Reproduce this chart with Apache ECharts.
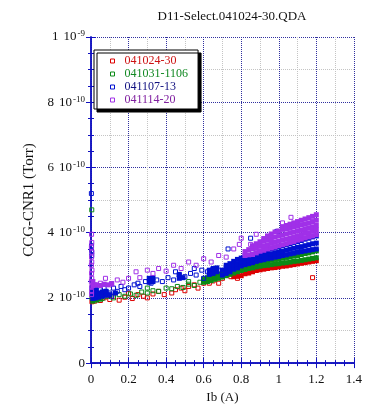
<!DOCTYPE html>
<html>
<head>
<meta charset="utf-8">
<script src="https://cdn.jsdelivr.net/npm/echarts@6/dist/echarts.min.js"></script>
<style>
  html, body { margin: 0; padding: 0; background: #fff; }
  #chart { width: 365px; height: 409px; }
</style>
</head>
<body>
<div id="chart"></div>
<script>
// values in units of 1e-10 Torr, x in A
const seriesNames = ['041024-30', '041031-1106', '041107-13', '041114-20']
const seriesColors = ['#dd0000', '#0b8a16', '#0010d0', '#a030e8']
const legendTextColors = ['#cc1111', '#118822', '#101080', '#8020a0']

const xTicks = [0, 0.2, 0.4, 0.6, 0.8, 1, 1.2, 1.4]
const yTickLabels = ['0', '2|10|-10', '4|10|-10', '6|10|-10', '8|10|-10', '1|10|-9']

// scattered points (hollow squares)
const redPts = [[0.005,1.88],[0.01,1.95],[0.02,1.9],[0.03,1.98],[0.05,1.92],[0.07,2.0],[0.1,1.95],
  [0.12,2.05],[0.15,1.93],[0.18,2.02],[0.2,2.14],[0.22,1.98],[0.25,2.1],[0.28,2.05],[0.3,2.0],
  [0.33,2.12],[0.36,2.2],[0.39,2.1],[0.43,2.15],[0.45,2.25],[0.48,2.3],[0.5,2.22],[0.52,2.35],
  [0.55,2.4],[0.57,2.3],[0.6,2.45],[0.63,2.45],[0.65,2.52],[0.68,2.45],[0.7,2.6],[0.745,2.65],
  [0.78,2.6],[1.18,2.62]]
const greenPts = [[0.005,2.0],[0.004,4.7],[0.02,1.95],[0.04,2.02],[0.06,1.98],[0.09,2.05],[0.12,2.0],
  [0.15,2.1],[0.18,2.05],[0.21,2.12],[0.24,2.08],[0.27,2.18],[0.3,2.15],[0.33,2.22],[0.36,2.2],
  [0.4,2.3],[0.43,2.28],[0.46,2.35],[0.49,2.32],[0.52,2.42],[0.55,2.38],[0.58,2.48],[0.62,2.55],
  [0.66,2.6],[0.3,2.3],[0.52,2.5]]
const bluePts = [[0.002,5.2],[0.003,3.6],[0.003,3.45],[0.004,3.3],[0.005,2.3],[0.01,2.1],[0.015,2.2],
  [0.02,2.0],[0.03,2.15],[0.04,2.05],[0.05,2.25],[0.06,2.1],[0.08,2.2],[0.1,2.15],[0.12,2.3],
  [0.14,2.2],[0.16,2.35],[0.18,2.25],[0.2,2.3],[0.23,2.4],[0.26,2.35],[0.29,2.5],[0.32,2.45],
  [0.35,2.55],[0.38,2.5],[0.41,2.62],[0.44,2.55],[0.47,2.7],[0.5,2.65],[0.53,2.75],[0.56,2.7],
  [0.59,2.85],[0.62,2.8],[0.65,2.9],[0.68,2.85],[0.6,2.6],[0.73,3.5],[0.85,3.83],[0.99,4.04],
  [0.07,2.3],[0.11,2.05],[0.25,2.45],[0.45,2.8],[0.55,2.9]]
const purplePts = [[0.003,2.1],[0.003,2.2],[0.004,2.35],[0.002,2.5],[0.004,2.6],[0.003,2.75],
  [0.005,2.85],[0.002,3.0],[0.004,3.1],[0.003,3.25],[0.005,3.4],[0.002,3.55],[0.004,3.7],[0.003,3.95],
  [0.02,2.4],[0.05,2.45],[0.077,2.6],[0.11,2.42],[0.14,2.55],[0.17,2.48],[0.2,2.6],[0.24,2.8],
  [0.26,2.62],[0.3,2.85],[0.33,2.75],[0.36,2.9],[0.4,2.82],[0.44,3.0],[0.48,2.9],[0.52,3.1],
  [0.56,3.0],[0.6,3.2],[0.64,3.1],[0.68,3.3],[0.72,3.25],[0.76,3.5],[0.79,3.64],[0.8,3.83],
  [0.85,3.64],[0.88,3.95],[1.02,4.3],[1.065,4.47]]

// dense bands: x positions and the y values stacked at each one
const redBandX = [0.76,0.78,0.8,0.82,0.84,0.86,0.88,0.9,0.92,0.94,0.96,0.98,1.0,1.02,1.04,1.06,1.08,1.1,1.12,1.14,1.16,1.18,1.2]
const redBandY = [[2.65],[2.66],[2.68],[2.74],[2.76],[2.8],[2.84],[2.86],[2.88],[2.9],[2.92],[2.93],[2.95],
  [2.97],[2.98],[3.0],[3.02],[3.04],[3.06],[3.08],[3.1],[3.12],[3.14]]

const greenBandX = [0.01,0.03,0.05,0.6,0.62,0.64,0.66,0.68,0.7,0.72,0.74,0.76,0.78,0.8,0.82,0.84,0.86,0.88,0.9,0.92,0.94,0.96,0.98,1.0,1.02,1.04,1.06,1.08,1.1,1.12,1.14,1.16,1.18,1.2]
const greenBandY = [[1.9],[1.93],[1.96],[2.48,2.58],[2.5,2.62],[2.53,2.66],[2.57,2.7],[2.6,2.73],[2.64,2.76],[2.68,2.8],
  [2.72,2.84],[2.76,2.88],[2.8,2.92],[2.84,2.96],[2.87,2.99],[2.9,3.02],[2.92,3.05],[2.95,3.08],
  [2.97,3.1],[2.99,3.12],[3.0,3.14],[3.02,3.16],[3.04,3.18],[3.05,3.2],[3.07,3.22],[3.08,3.24],
  [3.1,3.26],[3.12,3.28],[3.13,3.3],[3.15,3.33],[3.17,3.36],[3.19,3.38],[3.21,3.41],[3.23,3.44]]

const blueBandX = [0.01,0.025,0.04,0.06,0.08,0.1,0.13,0.31,0.33,0.47,0.49,0.63,0.65,0.67,
  0.7,0.72,0.74,0.76,0.78,0.8,0.82,0.84,0.86,0.88,0.9,0.92,0.94,0.96,0.98,1.0,1.02,1.04,1.06,1.08,1.1,1.12,1.14,1.16,1.18,1.2]
const blueBandY = [[1.98,2.12,2.26],[2.0,2.14,2.25],[2.02,2.15],[2.05,2.18],[2.08,2.2],[2.1],[2.15],
  [2.48,2.6],[2.5,2.62],[2.6,2.72],[2.62],[2.72,2.85],[2.75,2.88],[2.8,2.92],
  [2.7,2.85],[2.75,2.9,3.0],[2.8,2.92,3.05],[2.88,3.0,3.12],[2.92,3.05,3.18],
  [2.98,3.1,3.22],[3.02,3.14,3.26],[3.05,3.17,3.3],[3.08,3.2,3.33],[3.12,3.24,3.36],[3.15,3.27,3.4],
  [3.17,3.3,3.43],[3.2,3.33,3.46],[3.22,3.35,3.5],[3.25,3.38,3.53],[3.27,3.4,3.56],[3.3,3.43,3.6],
  [3.32,3.46,3.63],[3.35,3.49,3.66],[3.37,3.52,3.7],[3.4,3.55,3.73],[3.42,3.57,3.76],[3.44,3.6,3.8],
  [3.46,3.63,3.83],[3.48,3.66,3.87],[3.5,3.68,3.9]]

const purpleBandX = [0.01,0.03,0.05,0.07,0.09,0.11,0.82,0.84,0.86,0.88,0.9,0.92,0.94,0.96,0.98,1.0,1.02,1.04,1.06,1.08,1.1,1.12,1.14,1.16,1.18,1.2]
const purpleBandY = [[2.38,2.5],[2.4],[2.38],[2.42],[2.4],[2.44],[3.3,3.42],[3.32,3.48],[3.33,3.5,3.6],[3.38,3.52,3.66],[3.43,3.58,3.72],
  [3.46,3.6,3.75,3.82],[3.5,3.63,3.78,3.9],[3.53,3.67,3.82,3.96],[3.56,3.7,3.86,4.02],[3.6,3.74,3.9,4.05],
  [3.63,3.78,3.93,4.1,4.18],[3.66,3.8,3.96,4.12,4.22],[3.7,3.84,4.0,4.15,4.26],[3.73,3.87,4.02,4.18,4.3],
  [3.77,3.9,4.05,4.2,4.34],[3.8,3.94,4.08,4.24,4.38],[3.84,3.98,4.12,4.27,4.42],[3.87,4.0,4.15,4.3,4.46],
  [3.9,4.04,4.18,4.34,4.5],[3.94,4.08,4.22,4.38,4.55]]

const scatterSets = [redPts, greenPts, bluePts, purplePts]
const bandSets = [[redBandX, redBandY], [greenBandX, greenBandY], [blueBandX, blueBandY], [purpleBandX, purpleBandY]]

const serif = '"Liberation Serif", "DejaVu Serif", serif'
const axisBlue = '#1010c0'
const gridBlue = '#3030a0'
const gridGrey = '#c4c4c4'

const bandPoints = (xs, ys) => {
  const out = []
  xs.forEach((x, i) => ys[i].forEach(y => out.push([x, y])))
  return out
}

const series = []
seriesNames.forEach((name, i) => {
  series.push({
    name,
    type: 'scatter',
    symbol: 'rect',
    symbolSize: 5,
    data: bandPoints(bandSets[i][0], bandSets[i][1]),
    itemStyle: { color: seriesColors[i], opacity: 1 },
    z: 2 + i
  })
  series.push({
    name,
    type: 'scatter',
    symbol: 'rect',
    symbolSize: 4,
    data: scatterSets[i],
    itemStyle: { color: 'rgba(255,255,255,0)', borderColor: seriesColors[i], borderWidth: 1, opacity: 1 },
    z: 2 + i
  })
})

const yLabel = (v) => {
  const s = yTickLabels[Math.round(v / 2)]
  if (!s || s.indexOf('|') < 0) return s
  const parts = s.split('|')
  return '{n|' + parts[0] + '}{m|' + parts[1] + '}{e|' + parts[2] + '}'
}

// the frame axes (ticks inward, no labels)
const frameAxis = (extra) => Object.assign({
  type: 'value',
  axisLine: { show: true, lineStyle: { color: axisBlue, width: 1.5 } },
  axisTick: { inside: true, length: 5, lineStyle: { color: axisBlue } },
  splitLine: { show: false },
  axisLabel: { show: false }
}, extra)

// faint grey grid at half steps
const greyAxis = (extra) => Object.assign({
  type: 'value',
  axisLine: { show: false },
  axisTick: { show: false },
  axisLabel: { show: false },
  splitLine: { show: true, lineStyle: { color: gridGrey, type: 'dotted', width: 1 } }
}, extra)

const chart = echarts.init(document.getElementById('chart'))
chart.setOption({
  animation: false,
  backgroundColor: '#fff',
  title: {
    text: 'D11-Select.041024-30.QDA',
    left: 227,
    textAlign: 'center',
    top: 5,
    textStyle: { fontFamily: serif, fontSize: 13, fontWeight: 'normal', color: '#111' }
  },
  legend: {
    orient: 'vertical',
    left: 94,
    top: 50,
    padding: [5, 10, 3, 16],
    itemGap: 1,
    itemWidth: 14,
    itemHeight: 4,
    icon: 'path://M0,0h1v1h-1z',
    backgroundColor: '#fff',
    borderColor: '#000',
    borderWidth: 1,
    shadowColor: '#000',
    shadowOffsetX: 3,
    shadowOffsetY: 3,
    shadowBlur: 0,
    textStyle: { fontFamily: serif, fontSize: 12 },
    data: seriesNames.map((n, i) => ({
      name: n,
      itemStyle: { color: 'rgba(255,255,255,0)', borderColor: seriesColors[i], borderWidth: 1 },
      textStyle: { color: legendTextColors[i] }
    }))
  },
  grid: { left: 91, right: 7, top: 37, bottom: 40 },
  xAxis: [greyAxis({ min: 0, max: 1.4, interval: 0.1, position: 'bottom', offset: 0 }), {
    type: 'value',
    min: 0,
    max: 1.4,
    interval: 0.2,
    position: 'bottom',
    name: 'Ib (A)',
    nameLocation: 'middle',
    nameGap: 24,
    nameTextStyle: { fontFamily: serif, fontSize: 13, color: '#111' },
    axisLine: { lineStyle: { color: axisBlue, width: 1.5 } },
    axisTick: { inside: true, length: 5, lineStyle: { color: axisBlue } },
    minorTick: { show: true, splitNumber: 4, length: 3, lineStyle: { color: axisBlue } },
    splitLine: { show: true, lineStyle: { color: gridBlue, type: 'dotted', width: 1 } },
    axisLabel: {
      fontFamily: serif, fontSize: 13, color: '#111', margin: 10,
      formatter: v => String(xTicks[Math.round(v / 0.2)])
    }
  }, frameAxis({
    min: 0, max: 1.4, interval: 0.2, position: 'top',
    minorTick: { show: true, splitNumber: 4, length: 3, lineStyle: { color: axisBlue } }
  })],
  yAxis: [greyAxis({ min: 0, max: 10, interval: 1, position: 'left' }), {
    type: 'value',
    min: 0,
    max: 10,
    interval: 2,
    position: 'left',
    name: 'CCG-CNR1 (Torr)',
    nameLocation: 'middle',
    nameGap: 50,
    nameTextStyle: { fontFamily: serif, fontSize: 15, color: '#111' },
    axisLine: { show: true, lineStyle: { color: axisBlue, width: 1.5 } },
    axisTick: { inside: true, length: 5, lineStyle: { color: axisBlue } },
    minorTick: { show: true, splitNumber: 4, length: 3, lineStyle: { color: axisBlue } },
    splitLine: { show: true, lineStyle: { color: gridBlue, type: 'dotted', width: 1 } },
    axisLabel: {
      fontFamily: serif, fontSize: 13, color: '#111', margin: 6,
      formatter: yLabel,
      rich: {
        n: { fontFamily: serif, fontSize: 13, color: '#111', lineHeight: 15, padding: [0, 5, 0, 0] },
        m: { fontFamily: serif, fontSize: 13, color: '#111', lineHeight: 15 },
        e: { fontFamily: serif, fontSize: 9, color: '#111', verticalAlign: 'top', lineHeight: 15, padding: [0, 0, 9, 1] }
      }
    }
  }, frameAxis({
    min: 0, max: 10, interval: 2, position: 'right',
    minorTick: { show: true, splitNumber: 4, length: 3, lineStyle: { color: axisBlue } }
  })],
  series: series.map(s => Object.assign(s, { xAxisIndex: 1, yAxisIndex: 1 }))
})
</script>
</body>
</html>
